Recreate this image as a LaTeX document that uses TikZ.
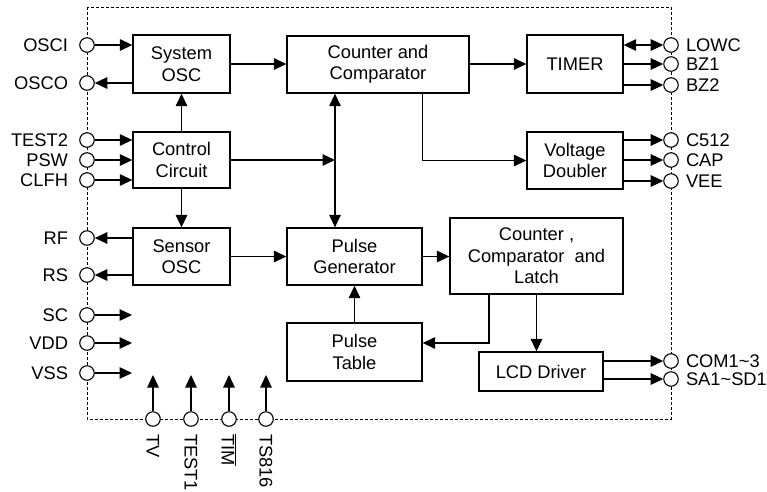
\documentclass[tikz,border=0pt]{standalone}
\usepackage{fontspec}
\setmainfont{Liberation Sans}
\usetikzlibrary{arrows.meta}
\begin{document}
\begin{tikzpicture}[x=1pt,y=-1pt,
  every node/.style={font=\fontsize{18.3}{21.5}\selectfont},
  blk/.style={draw,line width=1.3pt,align=center,inner sep=0pt},
  pin/.style={draw,line width=1.1pt,circle,fill=white,minimum size=14.5pt,inner sep=0pt},
  con/.style={line width=1.3pt,-{Triangle[length=12.5pt,width=11.5pt]}},
  bicon/.style={line width=1.3pt,{Triangle[length=12.5pt,width=11.5pt]}-{Triangle[length=12.5pt,width=11.5pt]}},
  border/.style={line width=0.9pt,dash pattern=on 3pt off 2pt},
  lft/.style={anchor=east,inner sep=0pt},
  rgt/.style={anchor=west,inner sep=0pt},
  bot/.style={anchor=west,inner sep=0pt,rotate=-90}]
\useasboundingbox (0,0) rectangle (767,491);
\draw[border] (87,7) rectangle (671,419);
% blocks
\node[blk,minimum width=97pt,minimum height=58pt] (sysosc) at (181.5,64) {System\\OSC};
\node[blk,minimum width=97pt,minimum height=56pt] (ctrl) at (181.5,160) {Control\\Circuit};
\node[blk,minimum width=97pt,minimum height=57pt] (sensor) at (181.5,256.5) {Sensor\\OSC};
\node[blk,minimum width=182pt,minimum height=57pt] (cnt) at (378,64.5) {Counter and\\Comparator};
\node[blk,minimum width=135pt,minimum height=57pt] (pgen) at (354.5,256.5) {Pulse\\Generator};
\node[blk,minimum width=135pt,minimum height=58pt] (ptab) at (354.5,352) {Pulse\\Table};
\node[blk,minimum width=173pt,minimum height=76pt] (latch) at (536.5,256) {Counter ,\\Comparator~ and\\Latch};
\node[blk,minimum width=124pt,minimum height=39pt] (lcd) at (541,371.5) {LCD Driver};
\node[blk,minimum width=96pt,minimum height=58pt] (timer) at (575,64) {TIMER};
\node[blk,minimum width=96pt,minimum height=57pt] (vdbl) at (575,160.5) {Voltage\\Doubler};
% left pins
\node[pin] (osci) at (87,45) {};
\node[pin] (osco) at (87,83) {};
\node[pin] (test2) at (87,140) {};
\node[pin] (psw) at (87,160) {};
\node[pin] (clfh) at (87,180) {};
\node[pin] (rf) at (87,238) {};
\node[pin] (rs) at (87,275) {};
\node[pin] (sc) at (87,315) {};
\node[pin] (vdd) at (87,343) {};
\node[pin] (vss) at (87,373) {};
% right pins
\node[pin] (lowc) at (671,45) {};
\node[pin] (bz1) at (671,64) {};
\node[pin] (bz2) at (671,85) {};
\node[pin] (c512) at (671,140) {};
\node[pin] (cap) at (671,160) {};
\node[pin] (vee) at (671,181) {};
\node[pin] (com) at (671,361) {};
\node[pin] (sa) at (671,379) {};
% bottom pins
\node[pin] (tv) at (153,419) {};
\node[pin] (test1) at (191,419) {};
\node[pin] (tim) at (229,419) {};
\node[pin] (ts) at (266,419) {};
% labels
\node[lft] at ([xshift=-11pt]osci.west) {OSCI};
\node[lft] at ([xshift=-11pt]osco.west) {OSCO};
\node[lft] at ([xshift=-11pt]test2.west) {TEST2};
\node[lft] at ([xshift=-11pt]psw.west) {PSW};
\node[lft] at ([xshift=-11pt]clfh.west) {CLFH};
\node[lft] at ([xshift=-11pt]rf.west) {RF};
\node[lft] at ([xshift=-11pt]rs.west) {RS};
\node[lft] at ([xshift=-11pt]sc.west) {SC};
\node[lft] at ([xshift=-11pt]vdd.west) {VDD};
\node[lft] at ([xshift=-11pt]vss.west) {VSS};
\node[rgt] at ([xshift=7pt]lowc.east) {LOWC};
\node[rgt] at ([xshift=7pt]bz1.east) {BZ1};
\node[rgt] at ([xshift=7pt]bz2.east) {BZ2};
\node[rgt] at ([xshift=7pt]c512.east) {C512};
\node[rgt] at ([xshift=7pt]cap.east) {CAP};
\node[rgt] at ([xshift=7pt]vee.east) {VEE};
\node[rgt] at ([xshift=7pt]com.east) {COM1\char`~3};
\node[rgt] at ([xshift=7pt]sa.east) {SA1\char`~SD1};
\node[bot] at ([yshift=-7pt]tv.south) {TV};
\node[bot] at ([yshift=-7pt]test1.south) {TEST1};
\node[bot] at ([yshift=-7pt]tim.south) {$\overline{\hbox{TIM}}$};
\node[bot] at ([yshift=-7pt]ts.south) {TS816};
% free ends
\coordinate (scend) at (132,0);
\coordinate (botend) at (0,375);
\coordinate (j) at (335,160);
\coordinate (lp) at (489,343);
% left pin connectors
\draw[con] (osci.east) -- (sysosc.west |- osci);
\draw[con] (sysosc.west |- osco) -- (osco.east);
\draw[con] (test2.east) -- (ctrl.west |- test2);
\draw[con] (psw.east) -- (ctrl.west |- psw);
\draw[con] (clfh.east) -- (ctrl.west |- clfh);
\draw[con] (sensor.west |- rf) -- (rf.east);
\draw[con] (sensor.west |- rs) -- (rs.east);
\draw[con] (sc.east) -- (scend |- sc);
\draw[con] (vdd.east) -- (scend |- vdd);
\draw[con] (vss.east) -- (scend |- vss);
% bottom pin connectors
\draw[con] (tv.north) -- (tv |- botend);
\draw[con] (test1.north) -- (test1 |- botend);
\draw[con] (tim.north) -- (tim |- botend);
\draw[con] (ts.north) -- (ts |- botend);
% right pin connectors
\draw[bicon] (timer.east |- lowc) -- (lowc.west);
\draw[con] (timer.east |- bz1) -- (bz1.west);
\draw[con] (timer.east |- bz2) -- (bz2.west);
\draw[con] (vdbl.east |- c512) -- (c512.west);
\draw[con] (vdbl.east |- cap) -- (cap.west);
\draw[con] (vdbl.east |- vee) -- (vee.west);
\draw[con] (lcd.east |- com) -- (com.west);
\draw[con] (lcd.east |- sa) -- (sa.west);
% internal connectors
\draw[con] (ctrl.north) -- (sysosc.south);
\draw[con] (ctrl.south) -- (sensor.north);
\draw[con] (sysosc.east) -- (cnt.west |- sysosc.east);
\draw[con] (cnt.east |- timer.west) -- (timer.west);
\draw[con] (cnt.south -| pgen.east) |- (vdbl.west);
\draw[con] (ctrl.east) -- (j);
\draw[bicon] (cnt.south -| j) -- (pgen.north -| j);
\draw[con] (sensor.east) -- (pgen.west |- sensor.east);
\draw[con] (pgen.east) -- (latch.west |- pgen.east);
\draw[con] (ptab.north) -- (pgen.south);
\draw[con] (latch.south) -- (lcd.north -| latch.south);
\draw[con] (latch.south -| lp) |- (ptab.east |- lp);
\end{tikzpicture}
\end{document}
